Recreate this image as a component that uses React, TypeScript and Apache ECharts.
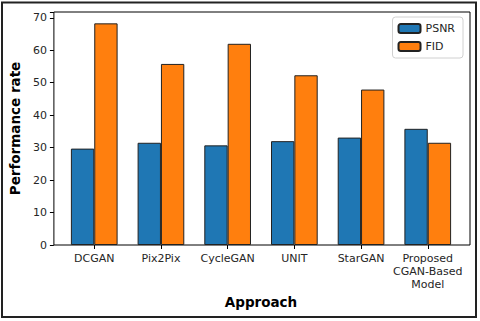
import React, { useEffect, useRef } from "react";
import * as echarts from "echarts";

const categories = ["DCGAN", "Pix2Pix", "CycleGAN", "UNIT", "StarGAN", "Proposed\nCGAN-Based\nModel"];
const psnr = [29.7, 31.5, 30.7, 32.0, 33.1, 35.8];
const fid = [68.3, 55.8, 62.0, 52.3, 47.9, 31.5];
const yTicks = [0, 10, 20, 30, 40, 50, 60, 70];

const FONT = "DejaVu Sans";
const TXT = "#262626";

export default function App() {
  const ref = useRef<HTMLDivElement>(null);
  useEffect(() => {
    const chart = echarts.init(ref.current!, null, { renderer: "svg" });
    const yMax = 71.8;
    const plotLeft = 52, plotWidth = 418, plotTop = 12, plotHeight = 233;
    const band = 66.7;
    const catWidth = band * 6;
    const catLeft = plotLeft + (plotWidth - catWidth) / 2;
    chart.setOption({
      animation: false,
      backgroundColor: "#fff",
      textStyle: { fontFamily: FONT },
      grid: [
        { left: catLeft, width: catWidth, top: plotTop, height: plotHeight },
        { left: plotLeft, width: plotWidth, top: plotTop, height: plotHeight, show: true, borderColor: "#000", borderWidth: 1, backgroundColor: "transparent" },
      ],
      xAxis: [
        {
          type: "category",
          gridIndex: 0,
          data: categories,
          axisLine: { show: false },
          axisTick: { show: true, alignWithLabel: true, length: 4, lineStyle: { color: "#000" } },
          axisLabel: { color: TXT, fontSize: 11, fontFamily: FONT, margin: 7, lineHeight: 12.8, interval: 0 },
          name: "Approach",
          nameLocation: "middle",
          nameGap: 49,
          nameTextStyle: { fontSize: 13.5, fontWeight: "bold", color: "#000", fontFamily: FONT },
        },
        { type: "value", gridIndex: 1, show: false, min: 0, max: 1 },
      ],
      yAxis: [
        { type: "value", gridIndex: 0, min: 0, max: yMax, show: false, splitLine: { show: false } },
        {
          type: "value",
          gridIndex: 1,
          min: 0,
          max: yMax,
          interval: 10,
          splitLine: { show: false },
          axisLine: { show: false },
          axisTick: { show: true, length: 4, lineStyle: { color: "#000" } },
          axisLabel: {
            color: TXT, fontSize: 11, fontFamily: FONT, margin: 7,
            formatter: (v: number) => (yTicks.includes(v) ? String(v) : ""),
          },
          name: "Performance rate",
          nameLocation: "middle",
          nameGap: 31,
          nameRotate: 90,
          nameTextStyle: { fontSize: 13.5, fontWeight: "bold", color: "#000", fontFamily: FONT },
        },
      ],
      legend: {
        orient: "vertical",
        right: 17,
        top: 17,
        itemWidth: 22,
        itemHeight: 9,
        itemGap: 7,
        padding: [6, 8, 6, 5],
        borderColor: "#d0d0d0",
        borderWidth: 1,
        borderRadius: 3,
        backgroundColor: "rgba(255,255,255,0.8)",
        textStyle: { fontSize: 11, color: TXT, fontFamily: FONT },
        data: ["PSNR", "FID"],
      },
      series: [
        {
          name: "PSNR",
          type: "bar",
          xAxisIndex: 0,
          yAxisIndex: 0,
          data: psnr,
          barWidth: band * 0.35,
          barGap: "0%",
          itemStyle: { color: "#1f77b4", borderColor: "#222", borderWidth: 1 },
        },
        {
          name: "FID",
          type: "bar",
          xAxisIndex: 0,
          yAxisIndex: 0,
          data: fid,
          barWidth: band * 0.35,
          barGap: "0%",
          itemStyle: { color: "#ff7f0e", borderColor: "#222", borderWidth: 1 },
        },
      ],
      graphic: [
        { type: "rect", shape: { x: 2, y: 2.5, width: 474, height: 314.5 }, style: { fill: "none", stroke: "#222", lineWidth: 2 }, silent: true },
      ],
    });
    return () => chart.dispose();
  }, []);
  return <div ref={ref} style={{ position: "fixed", left: 0, top: 0, width: 480, height: 321 }} />;
}
